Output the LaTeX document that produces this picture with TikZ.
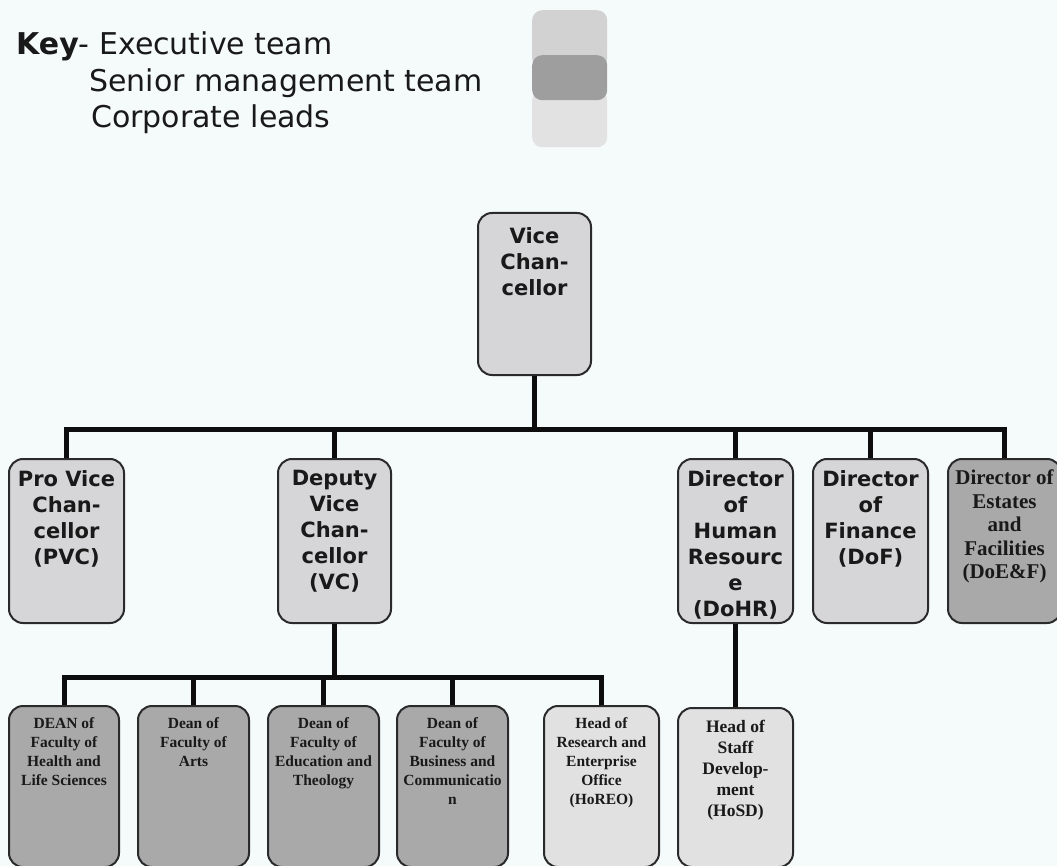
\documentclass[tikz,border=0pt]{standalone}
\usepackage{fontspec}
\setmainfont{DejaVu Sans}
\newfontfamily\tms{Liberation Serif}
\definecolor{bg}{HTML}{F5FAFB}
\definecolor{execc}{HTML}{D6D6D8}
\definecolor{seniorc}{HTML}{A9A9A9}
\definecolor{corpc}{HTML}{E1E1E1}
\definecolor{edgec}{HTML}{2A2A2A}
\definecolor{legA}{HTML}{D2D2D2}
\definecolor{legB}{HTML}{9E9E9E}
\definecolor{legC}{HTML}{E2E2E2}
\newcommand\orgbox[8]{%
  \node[box,#2,anchor=north west,minimum width={#5pt-#3pt},minimum height={#6pt-#4pt}] (#1) at (#3,#4)
  {\parbox[c][\dimexpr#6pt-#4pt\relax][t]{\dimexpr#5pt-#3pt\relax}{\centering\vspace*{#7pt}#8\par}};}
\begin{document}
\begin{tikzpicture}[x=1pt,y=-1pt,
  box/.style={draw=edgec,line width=2pt,rounded corners=14pt,inner sep=0pt,text=black!90},
  verd/.style={font=\fontsize{21}{26}\selectfont\bfseries},
  tmsA/.style={font=\tms\fontsize{15.5}{19}\selectfont\bfseries},
  tmsB/.style={font=\tms\fontsize{17.5}{21}\selectfont\bfseries},
  tmsC/.style={font=\tms\fontsize{21}{23.5}\selectfont\bfseries},
  ex/.style={fill=execc},
  sn/.style={fill=seniorc},
  cp/.style={fill=corpc},
  conn/.style={line width=5pt,draw=black!95,line join=miter},
  keytxt/.style={font=\fontsize{30}{36}\selectfont,anchor=base west,inner sep=0pt,text=black!90},
  legbox/.style={rounded corners=10pt,inner sep=0pt,minimum width=75pt,anchor=north west}]
\fill[bg] (0,0) rectangle (1057,866);
\useasboundingbox (0,0) rectangle (1057,866);
% key
\node[keytxt] (k1) at (16,55) {\textbf{Key}- Executive team};
\node[keytxt] (k2) at (89,92) {Senior management team};
\node[keytxt] (k3) at (91,128) {Corporate leads};
\node[legbox,fill=legA,minimum height=58pt] (leg1) at (532,10) {};
\node[legbox,fill=legC,minimum height=57pt] (leg3) at (532,90) {};
\node[legbox,fill=legB,minimum height=45pt] (leg2) at (532,55) {};
% top
\orgbox{vc}{ex,verd}{477}{212}{590}{374}{14.5}{Vice\\Chan-\\cellor}
% second row
\orgbox{pvc}{ex,verd}{8}{458}{123}{622}{11.5}{Pro Vice\\Chan-\\cellor\\(PVC)}
\orgbox{dvc}{ex,verd}{277}{458}{390}{622}{11.5}{Deputy\\Vice\\Chan-\\cellor\\(VC)}
\orgbox{dohr}{ex,verd}{677}{458}{792}{622}{11.5}{Director\\of\\Human\\Resourc\\e\\(DoHR)}
\orgbox{dof}{ex,verd}{812}{458}{927}{622}{11.5}{Director\\of\\Finance\\(DoF)}
\orgbox{doef}{sn,tmsC}{947}{458}{1060}{622}{11}{Director of\\Estates\\and\\Facilities\\(DoE\&F)}
% third row
\orgbox{dean}{sn,tmsA}{8}{705}{118}{866}{12}{DEAN of\\Faculty of\\Health and\\Life Sciences}
\orgbox{arts}{sn,tmsA}{137}{705}{248}{866}{12}{Dean of\\Faculty of\\Arts}
\orgbox{edu}{sn,tmsA}{267}{705}{378}{866}{12}{Dean of\\Faculty of\\Education and\\Theology}
\orgbox{busc}{sn,tmsA}{396}{705}{507}{866}{12}{Dean of\\Faculty of\\Business and\\Communicatio\\n}
\orgbox{horeo}{cp,tmsA}{543}{705}{658}{866}{12}{Head of\\Research and\\Enterprise\\Office\\(HoREO)}
\orgbox{hosd}{cp,tmsB}{677}{707}{792}{866}{12}{Head of\\Staff\\Develop-\\ment\\(HoSD)}
% connectors
\coordinate (b1) at (533,429);
\coordinate (b2) at (333,677);
\draw[conn] (vc.south) -- (vc.south |- b1);
\draw[conn] (pvc.north) |- (doef.north |- b1) -- (doef.north);
\draw[conn] (dvc.north) -- (dvc.north |- b1);
\draw[conn] (dohr.north) -- (dohr.north |- b1);
\draw[conn] (dof.north) -- (dof.north |- b1);
\draw[conn] (dvc.south) -- (dvc.south |- b2);
\draw[conn] (dean.north) |- (horeo.north |- b2) -- (horeo.north);
\draw[conn] (arts.north) -- (arts.north |- b2);
\draw[conn] (edu.north) -- (edu.north |- b2);
\draw[conn] (busc.north) -- (busc.north |- b2);
\draw[conn] (dohr.south) -- (hosd.north);
\end{tikzpicture}
\end{document}
